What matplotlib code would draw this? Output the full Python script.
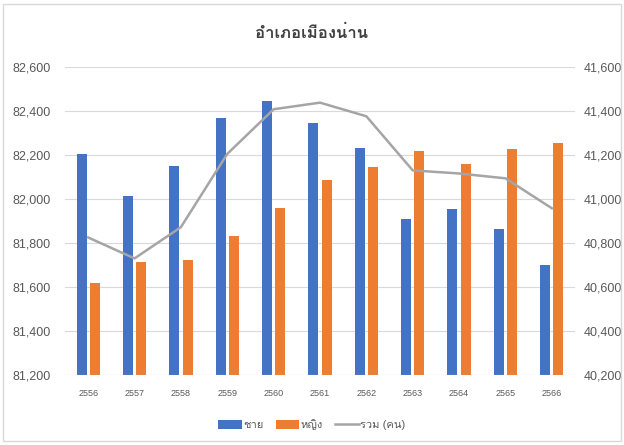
import numpy as np
import matplotlib
matplotlib.use('Agg')
import matplotlib.pyplot as plt
from matplotlib import font_manager as fm
from matplotlib.ft2font import FT2Font
from matplotlib.patches import Rectangle

# ข้อมูลประชากร อำเภอเมืองน่าน
years = ['2556', '2557', '2558', '2559', '2560', '2561',
         '2562', '2563', '2564', '2565', '2566']
male = [41203, 41014, 41149, 41370, 41447, 41347,
        41230, 40909, 40956, 40864, 40700]
female = [40617, 40712, 40721, 40832, 40959, 41086,
          41144, 41217, 41159, 41227, 41253]
total = [81825, 81730, 81872, 82205, 82408, 82438,
         82376, 82130, 82116, 82094, 81958]

title = 'อำเภอเมืองน่าน'
labels = ['ชาย', 'หญิง', 'รวม (คน)']

# hunt for a font that has Thai glyphs
thai_font = None
for f in fm.fontManager.ttflist:
    try:
        if 0x0E2D in FT2Font(f.fname).get_charmap():
            thai_font = f.name
            break
    except Exception:
        pass
fams = ['Liberation Sans', thai_font, 'DejaVu Sans'] if thai_font else ['Liberation Sans', 'DejaVu Sans']
plt.rcParams['font.family'] = fams

tick_col = '#595959'
grid_col = '#D9D9D9'

fig = plt.figure(figsize=(6.24, 4.45), dpi=100)
fig.patches.append(Rectangle((0.005, 0.008), 0.99, 0.984, transform=fig.transFigure,
                             fill=False, edgecolor=grid_col, linewidth=1))

ax = fig.add_axes([65 / 624, 1 - 375 / 445, 510 / 624, 308 / 445])
ax2 = ax.twinx()

x = np.arange(len(years))
w = 0.215
ax2.bar(x - 0.143, male, w, color='#4472C4', label=labels[0])
ax2.bar(x + 0.143, female, w, color='#ED7D31', label=labels[1])
ax.plot(x, total, color='#A5A5A5', linewidth=1.8, label=labels[2], zorder=5)

# line goes on top of the bars
ax.set_zorder(ax2.get_zorder() + 1)
ax.patch.set_visible(False)

ax.set_ylim(81200, 82600)
ax2.set_ylim(40200, 41600)
ax.set_yticks(np.arange(81200, 82601, 200))
ax2.set_yticks(np.arange(40200, 41601, 200))
ax.set_xlim(-0.5, len(years) - 0.5)
ax.set_xticks(x)
ax.set_xticklabels(years)

fmt = matplotlib.ticker.FuncFormatter(lambda v, p: f'{int(v):,}')
ax.yaxis.set_major_formatter(fmt)
ax2.yaxis.set_major_formatter(fmt)

ax2.yaxis.grid(True, color=grid_col, linewidth=0.8)
ax2.set_axisbelow(True)
for a in (ax, ax2):
    for s in a.spines.values():
        s.set_visible(False)
    a.tick_params(length=0, labelsize=9, colors=tick_col)
ax.tick_params(axis='y', pad=10.5)
ax2.tick_params(axis='y', pad=6)
ax.tick_params(axis='x', pad=10, labelsize=6.5)
ax.axhline(81200, color=grid_col, linewidth=0.8)

fig.text(0.5, 1 - 33 / 445, title, ha='center', va='center', fontsize=12,
         fontweight='bold', color='#404040')

h1, l1 = ax2.get_legend_handles_labels()
h2, l2 = ax.get_legend_handles_labels()
fig.legend(h1 + h2, l1 + l2, loc='center', bbox_to_anchor=(0.5, 1 - 425 / 445),
           ncol=3, frameon=False, fontsize=8, handlelength=2.1, handleheight=0.8,
           columnspacing=1.1, handletextpad=0.15, labelcolor=tick_col)

fig.savefig('out.png', dpi=100, facecolor='white')
